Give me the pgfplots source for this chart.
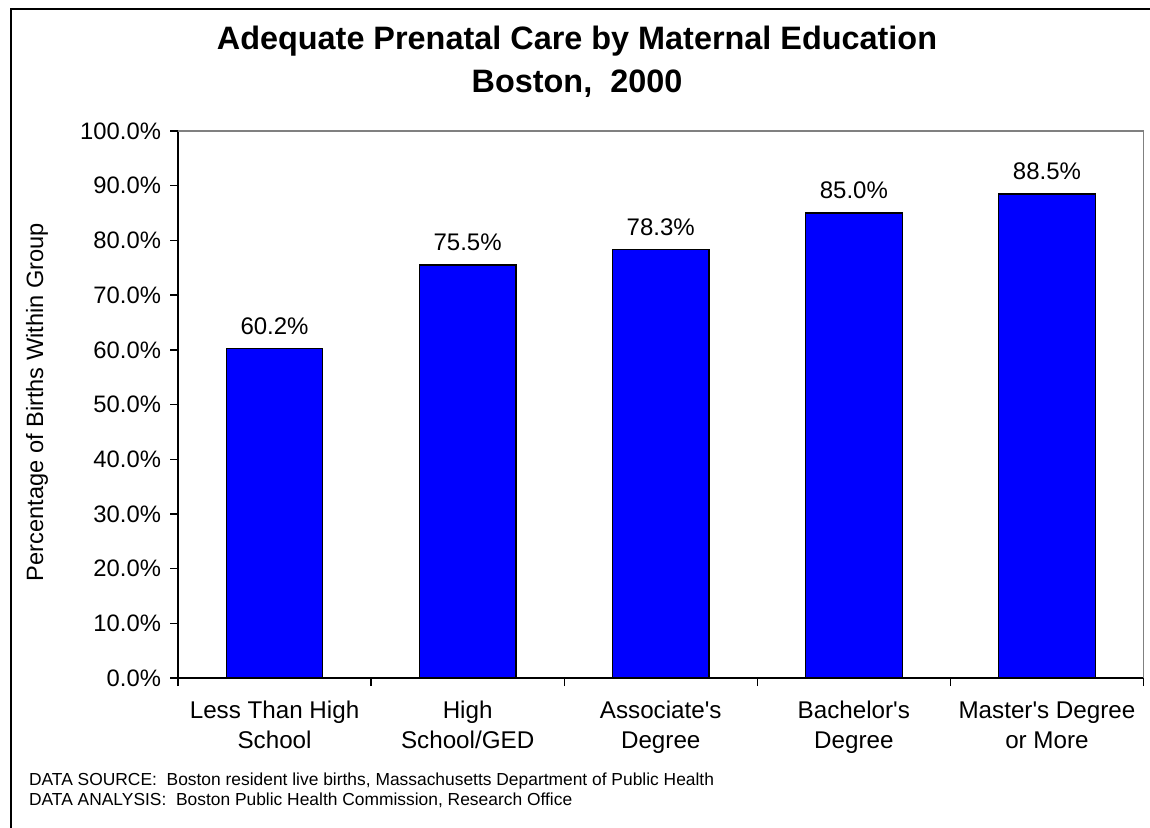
\documentclass[border=0pt]{standalone}
\usepackage{pgfplots}
\pgfplotsset{compat=1.18}
\usepackage{fontspec}
\setmainfont{Liberation Sans}[Ligatures=TeXOff]
\definecolor{barblue}{RGB}{0,0,255}
\definecolor{framegray}{RGB}{128,128,128}
\begin{document}
\begin{tikzpicture}
\useasboundingbox (0,0) rectangle (575pt,-413.5pt);
\begin{scope}
\clip (0,0) rectangle (575pt,-413.5pt);
\draw[black, line width=1.2pt] (5.5pt,-4.6pt) rectangle (590pt,-430pt);
\end{scope}
\node[anchor=base, font=\fontsize{16.2}{20}\selectfont\bfseries] at (288.5pt,-24.5pt) {Adequate Prenatal Care by Maternal Education};
\node[anchor=base, font=\fontsize{16.2}{20}\selectfont\bfseries] at (288.5pt,-46pt) {Boston,\ \ 2000};
\begin{axis}[
  at={(89pt,-339pt)}, anchor=south west,
  scale only axis, width=482.75pt, height=273.5pt,
  xmin=0.5, xmax=5.5, ymin=0, ymax=100,
  axis x line*=bottom, axis y line*=left,
  axis line style={-, black, line width=0.7pt},
  tick align=outside, major tick length=4pt,
  tick style={black, line width=0.7pt},
  /pgf/number format/assume math mode=true,
  ytick={0,10,...,100},
  yticklabel={\pgfmathprintnumber[fixed,fixed zerofill,precision=1]{\tick}\%},
  yticklabel style={font=\fontsize{11.9}{14}\selectfont, xshift=-1pt},
  xtick={0.5,1.5,2.5,3.5,4.5,5.5},
  xticklabels={,,,,,},
  extra x ticks={1,2,3,4,5},
  extra x tick labels={{\strut Less Than High\\School},{\strut High\\School/GED},{\strut Associate's\\Degree},{\strut Bachelor's\\Degree},{\strut Master's Degree\\or More}},
  extra x tick style={major tick length=0pt, tick label style={font=\fontsize{12.1}{15}\selectfont, align=center, anchor=north, yshift=-6pt}},
  nodes near coords={\pgfmathprintnumber[fixed,fixed zerofill,precision=1]{\pgfplotspointmeta}\%},
  nodes near coords style={font=\fontsize{12}{14}\selectfont, black, yshift=3.5pt},
  clip=false,
]
\addplot[ybar, bar width=0.5, fill=barblue, draw=black, line width=0.6pt]
  coordinates {(1,60.2) (2,75.5) (3,78.3) (4,85.0) (5,88.5)};
\draw[framegray, line width=0.8pt] (rel axis cs:0,1) -- (rel axis cs:1,1) -- (rel axis cs:1,0);
\end{axis}
\node[rotate=90, font=\fontsize{11.8}{14}\selectfont] at (18.5pt,-201pt) {Percentage of Births Within Group};
\node[anchor=base west, font=\fontsize{8.7}{10}\selectfont] at (11pt,-392.5pt) {DATA SOURCE:\ \ Boston resident live births, Massachusetts Department of Public Health};
\node[anchor=base west, font=\fontsize{8.7}{10}\selectfont] at (11pt,-402.5pt) {DATA ANALYSIS:\ \ Boston Public Health Commission, Research Office};
\end{tikzpicture}
\end{document}
